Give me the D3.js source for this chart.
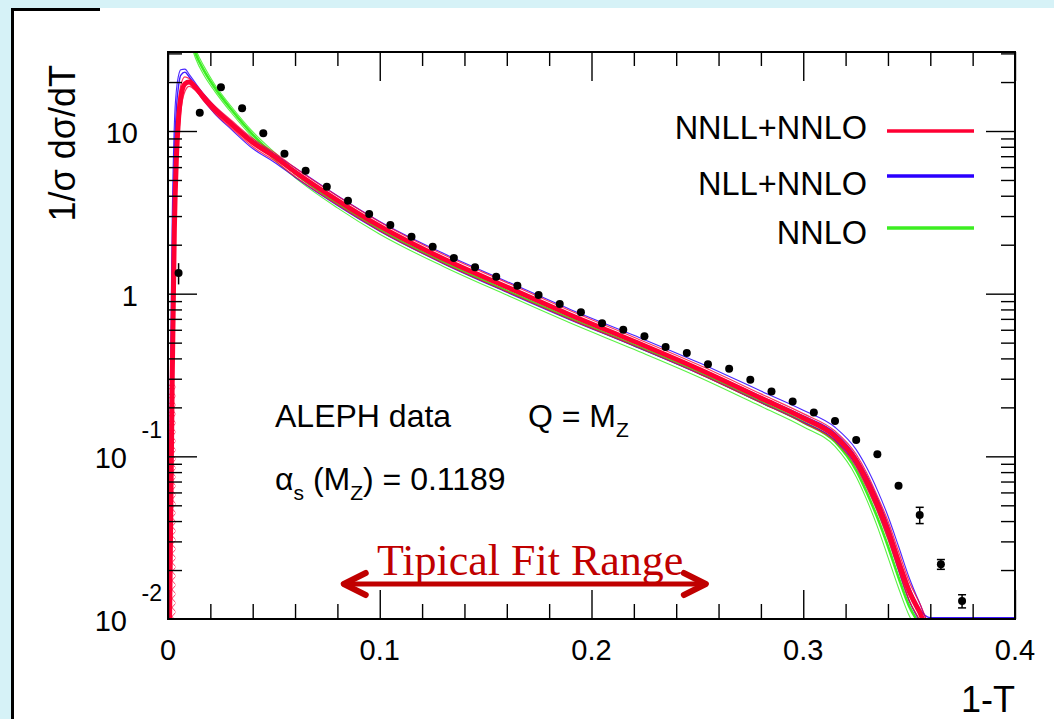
<!DOCTYPE html>
<html>
<head>
<meta charset="utf-8">
<script src="https://cdn.jsdelivr.net/npm/d3@7"></script>
<style>
  html, body { margin: 0; padding: 0; background: #d6f2f7; }
  svg { display: block; }
  text { font-family: "Liberation Sans", Arial, Helvetica, sans-serif; fill: #000; }
</style>
</head>
<body>
<svg id="chart" width="1054" height="719"></svg>
<script>
// ---- data: measured thrust distribution (1-T) ----
const dataX = [0.005, 0.015, 0.025, 0.035, 0.045, 0.055, 0.065, 0.075, 0.085, 0.095,
               0.105, 0.115, 0.125, 0.135, 0.145, 0.155, 0.165, 0.175, 0.185, 0.195,
               0.205, 0.215, 0.225, 0.235, 0.245, 0.255, 0.265, 0.275, 0.285, 0.295,
               0.305, 0.315, 0.325, 0.335, 0.345, 0.355, 0.365, 0.375];
const dataY = [1.34, 12.96, 18.6, 13.8, 9.68, 7.25, 5.70, 4.55, 3.73, 3.09,
               2.64, 2.24, 1.945, 1.658, 1.453, 1.272, 1.120, 0.982, 0.864, 0.769,
               0.658, 0.601, 0.547, 0.470, 0.432, 0.368, 0.346, 0.296, 0.250, 0.217,
               0.186, 0.165, 0.126, 0.103, 0.066, 0.0436, 0.0217, 0.0129];
const dataErr = [0.2, 0, 0, 0, 0, 0, 0, 0, 0, 0,
                 0, 0, 0, 0, 0, 0, 0, 0, 0, 0,
                 0, 0, 0, 0, 0, 0, 0, 0, 0, 0,
                 0, 0, 0, 0, 0, 0.005, 0.0015, 0.0012];

// ---- theory curves (central line and scale-variation edges) ----
const curveX = [0.0005, 0.002, 0.003, 0.004, 0.005, 0.006, 0.008, 0.010, 0.013, 0.017,
                0.022, 0.030, 0.040, 0.050, 0.060, 0.080, 0.100, 0.130, 0.160, 0.190,
                0.220, 0.250, 0.280, 0.300, 0.315, 0.325, 0.330, 0.335, 0.340, 0.345,
                0.350, 0.355, 0.360, 0.400];

const nnllMid = [0.005, 0.3, 2.5, 7, 12, 16, 19.5, 20, 18.5, 16,
                 13.6, 11, 8.5, 7.0, 5.6, 3.75, 2.6, 1.64, 1.10, 0.74,
                 0.51, 0.347, 0.228, 0.172, 0.133, 0.094, 0.071, 0.051, 0.035, 0.0225,
                 0.0148, 0.011, 0.008, 0.005];
const nnllHi  = [0.02, 0.8, 4, 10, 15, 19, 21.5, 21, 19.3, 16.8,
                 14.3, 11.6, 9.0, 7.4, 5.94, 3.98, 2.76, 1.74, 1.17, 0.785,
                 0.54, 0.368, 0.242, 0.183, 0.143, 0.103, 0.079, 0.057, 0.04, 0.026,
                 0.017, 0.0125, 0.009, 0.005];
const nnllLo  = [0.003, 0.1, 1.2, 4.5, 9, 13, 17.5, 18.8, 17.7, 15.2,
                 12.9, 10.4, 8.0, 6.6, 5.26, 3.52, 2.44, 1.54, 1.03, 0.695,
                 0.48, 0.326, 0.214, 0.161, 0.124, 0.086, 0.064, 0.046, 0.031, 0.02,
                 0.013, 0.0098, 0.007, 0.005];
// low-(1-T) region where the NNLL+NNLO variations oscillate (hatched)
const nnllHatchX = [0, 0.0035];
const nnllHatchY = [0.01, 0.3];

const nllMid  = [0.01, 1.5, 7, 14, 19, 22, 23, 21.5, 19, 16.2,
                 13.6, 10.8, 8.35, 6.9, 5.55, 3.72, 2.58, 1.64, 1.10, 0.742,
                 0.513, 0.352, 0.233, 0.177, 0.139, 0.099, 0.076, 0.055, 0.038, 0.024,
                 0.0158, 0.0115, 0.0102, 0.0102];
const nllHi   = [0.05, 3, 11, 18, 22, 23.8, 24, 22.3, 19.7, 16.8,
                 14.2, 11.4, 8.8, 7.25, 5.95, 4.0, 2.78, 1.77, 1.19, 0.8,
                 0.555, 0.38, 0.252, 0.192, 0.151, 0.11, 0.085, 0.062, 0.043, 0.028,
                 0.018, 0.0125, 0.009, 0.005];
const nllLo   = [0.003, 0.3, 3, 8, 13, 17, 19.5, 19.8, 18, 15.3,
                 12.8, 10.2, 7.8, 6.45, 5.2, 3.48, 2.42, 1.53, 1.02, 0.69,
                 0.477, 0.325, 0.214, 0.162, 0.126, 0.088, 0.066, 0.047, 0.032, 0.02,
                 0.013, 0.0096, 0.007, 0.005];

const nnloMid = [300, 200, 140, 105, 80, 65, 50, 40, 30, 23.5,
                 18.5, 13.5, 9.5, 7.1, 5.5, 3.58, 2.47, 1.56, 1.04, 0.703,
                 0.484, 0.33, 0.216, 0.162, 0.123, 0.082, 0.06, 0.042, 0.028, 0.018,
                 0.012, 0.0092, 0.007, 0.005];
const nnloHi  = [300, 220, 150, 112, 86, 70, 54, 43, 32, 25,
                 19.4, 14.1, 9.9, 7.45, 5.75, 3.76, 2.6, 1.64, 1.09, 0.74,
                 0.508, 0.347, 0.227, 0.17, 0.13, 0.088, 0.065, 0.046, 0.031, 0.02,
                 0.013, 0.0098, 0.007, 0.005];
const nnloLo  = [300, 180, 130, 98, 74, 60, 46, 37, 28, 22,
                 17.6, 12.9, 9.1, 6.7, 5.17, 3.37, 2.32, 1.47, 0.98, 0.66,
                 0.455, 0.31, 0.203, 0.152, 0.115, 0.075, 0.054, 0.037, 0.024, 0.0155,
                 0.0105, 0.0082, 0.006, 0.005];

// ---- axes ----
const xMajor = [0, 0.1, 0.2, 0.3, 0.4];
const xMajorLabels = ["0", "0.1", "0.2", "0.3", "0.4"];
const xMinor = [0.02, 0.04, 0.06, 0.08, 0.12, 0.14, 0.16, 0.18, 0.22, 0.24, 0.26, 0.28,
                0.32, 0.34, 0.36, 0.38];
const yMajor = [0.01, 0.1, 1, 10];
const yLabelBase = ["10", "10", "1", "10"];
const yLabelExp = ["-2", "-1", "", ""];
const yMinor = [0.02, 0.03, 0.04, 0.05, 0.06, 0.07, 0.08, 0.09,
                0.2, 0.3, 0.4, 0.5, 0.6, 0.7, 0.8, 0.9,
                2, 3, 4, 5, 6, 7, 8, 9, 20, 30];

const legendNames = ["NNLL+NNLO", "NLL+NNLO", "NNLO"];
const legendColors = ["#ff0033", "#2a00ff", "#3cee22"];

const svg = d3.select("#chart");
const W = 1054, H = 719;
const plot = { left: 168, right: 1015, top: 52, bottom: 619 };

const x = d3.scaleLinear().domain([0, 0.4]).range([plot.left, plot.right]);
const y = d3.scaleLog().domain([0.01, 30.6]).range([plot.bottom, plot.top]);

// page panel
svg.append("rect").attr("x", 0).attr("y", 0).attr("width", W).attr("height", H).attr("fill", "#d6f2f7");
svg.append("rect").attr("x", 11).attr("y", 8).attr("width", W - 11).attr("height", H - 8).attr("fill", "#ffffff");
svg.append("rect").attr("x", 11).attr("y", 8).attr("width", 3).attr("height", H - 8).attr("fill", "#000");
svg.append("rect").attr("x", 11).attr("y", 8).attr("width", 89).attr("height", 3).attr("fill", "#000");

const defs = svg.append("defs");
// clip region for curves
defs.append("clipPath").attr("id", "plotClip")
  .append("rect")
  .attr("x", plot.left).attr("y", plot.top)
  .attr("width", plot.right - plot.left).attr("height", plot.bottom - plot.top);
// cross-hatch used for the oscillating low-(1-T) region
const hatch = defs.append("pattern").attr("id", "redHatch")
  .attr("patternUnits", "userSpaceOnUse").attr("width", 8).attr("height", 9)
  .attr("x", plot.left).attr("y", 0);
hatch.append("path").attr("d", "M0,0 L8,9 M8,0 L0,9")
  .attr("stroke", legendColors[0]).attr("stroke-width", 1).attr("stroke-opacity", 0.75);

const line = d3.line()
  .x(d => x(d[0]))
  .y(d => y(d[1]))
  .curve(d3.curveMonotoneX);

const curves = svg.append("g").attr("clip-path", "url(#plotClip)");

function band(vals, color, width, opacity) {
  curves.append("path")
    .datum(curveX.map((cx, i) => [cx, vals[i]]))
    .attr("d", line)
    .attr("fill", "none")
    .attr("stroke", color)
    .attr("stroke-width", width)
    .attr("stroke-opacity", opacity)
    .attr("stroke-linejoin", "round");
}

// NNLO (green)
band(nnloHi, legendColors[2], 1.1, 0.85);
band(nnloLo, legendColors[2], 1.1, 0.85);
band(nnloMid, legendColors[2], 2.6, 1);
// NLL+NNLO (blue)
band(nllHi, legendColors[1], 1.1, 0.85);
band(nllLo, legendColors[1], 1.1, 0.85);
band(nllMid, legendColors[1], 1.4, 0.9);
// NNLL+NNLO (red)
curves.append("rect")
  .attr("x", x(nnllHatchX[0])).attr("width", x(nnllHatchX[1]) - x(nnllHatchX[0]))
  .attr("y", y(nnllHatchY[1])).attr("height", y(nnllHatchY[0]) - y(nnllHatchY[1]))
  .attr("fill", "url(#redHatch)");
band(nnllHi, legendColors[0], 1.2, 0.8);
band(nnllLo, legendColors[0], 1.2, 0.8);
band(nnllMid, legendColors[0], 5, 1);

// ticks (pointing inward on all four sides)
function ticks(axis, tx, ty) {
  const g = svg.append("g").attr("transform", `translate(${tx},${ty})`).call(axis);
  g.select(".domain").remove();
  g.selectAll(".tick line").attr("stroke", "#000").attr("stroke-width", 1.4);
  g.selectAll(".tick text").remove();
}
ticks(d3.axisTop(x).tickValues(xMajor).tickSize(29), 0, plot.bottom);
ticks(d3.axisTop(x).tickValues(xMinor).tickSize(15), 0, plot.bottom);
ticks(d3.axisBottom(x).tickValues(xMajor).tickSize(29), 0, plot.top);
ticks(d3.axisBottom(x).tickValues(xMinor).tickSize(14), 0, plot.top);
ticks(d3.axisRight(y).tickValues(yMajor.filter(v => v > 0.01)).tickSize(29), plot.left, 0);
ticks(d3.axisRight(y).tickValues(yMinor).tickSize(14), plot.left, 0);
ticks(d3.axisLeft(y).tickValues(yMajor.filter(v => v > 0.01)).tickSize(29), plot.right, 0);
ticks(d3.axisLeft(y).tickValues(yMinor).tickSize(14), plot.right, 0);

// frame
svg.append("rect")
  .attr("x", plot.left).attr("y", plot.top)
  .attr("width", plot.right - plot.left).attr("height", plot.bottom - plot.top)
  .attr("fill", "none").attr("stroke", "#000").attr("stroke-width", 2);

// x tick labels
svg.append("g").selectAll("text").data(xMajor).join("text")
  .attr("x", d => x(d)).attr("y", 660)
  .attr("text-anchor", "middle").attr("font-size", 29)
  .text((d, i) => xMajorLabels[i]);

// y tick labels (10 with exponent where needed)
const yl = svg.append("g");
yMajor.forEach((v, i) => {
  const hasExp = yLabelExp[i] !== "";
  yl.append("text")
    .attr("x", hasExp ? 127 : 138).attr("y", y(v) + 12)
    .attr("text-anchor", "end").attr("font-size", 29)
    .text(yLabelBase[i]);
  if (hasExp) {
    yl.append("text")
      .attr("x", 162).attr("y", y(v) - 18)
      .attr("text-anchor", "end").attr("font-size", 23)
      .text(yLabelExp[i]);
  }
});

// axis titles
svg.append("text")
  .attr("transform", "translate(75,65) rotate(-90)")
  .attr("text-anchor", "end").attr("font-size", 36)
  .text("1/σ dσ/dT");
svg.append("text")
  .attr("x", plot.right).attr("y", 712)
  .attr("text-anchor", "end").attr("font-size", 36)
  .text("1-T");

// data points with error bars
const pts = svg.append("g");
dataX.forEach((dx, i) => {
  const e = dataErr[i];
  if (e > 0) {
    const cx = x(dx);
    const y1 = y(dataY[i] + e), y2 = y(dataY[i] - e);
    pts.append("line").attr("x1", cx).attr("x2", cx).attr("y1", y1).attr("y2", y2)
      .attr("stroke", "#000").attr("stroke-width", 1.5);
    if (i > 0) {
      [y1, y2].forEach(yy => pts.append("line")
        .attr("x1", cx - 4).attr("x2", cx + 4).attr("y1", yy).attr("y2", yy)
        .attr("stroke", "#000").attr("stroke-width", 1.5));
    }
  }
});
pts.selectAll("circle").data(dataX).join("circle")
  .attr("cx", d => x(d)).attr("cy", (d, i) => y(dataY[i]))
  .attr("r", 4).attr("fill", "#000");

// legend
const legendTextY = [139, 195, 244];
const legendLineY = [131, 176, 228];
legendNames.forEach((name, i) => {
  svg.append("text").attr("x", 867).attr("y", legendTextY[i])
    .attr("text-anchor", "end").attr("font-size", 32.5).text(name);
  svg.append("line").attr("x1", 887).attr("x2", 974)
    .attr("y1", legendLineY[i]).attr("y2", legendLineY[i])
    .attr("stroke", legendColors[i]).attr("stroke-width", 3.5);
});

// annotations
svg.append("text").attr("x", 275).attr("y", 427).attr("font-size", 32).text("ALEPH data");
const q = svg.append("text").attr("x", 528).attr("y", 427).attr("font-size", 32);
q.append("tspan").text("Q = M");
q.append("tspan").attr("font-size", 21).attr("dy", 10).text("Z");

const a = svg.append("text").attr("x", 275).attr("y", 490).attr("font-size", 32);
a.append("tspan").text("α");
a.append("tspan").attr("font-size", 21).attr("dy", 10).text("s");
a.append("tspan").attr("dy", -10).text(" (M");
a.append("tspan").attr("font-size", 21).attr("dy", 10).text("Z");
a.append("tspan").attr("dy", -10).text(") = 0.1189");

// fit range marker
const fitRange = [0.083, 0.254];
const arrowColor = "#c00000";
const ay = 584;
const ag = svg.append("g").attr("stroke", arrowColor).attr("fill", "none")
  .attr("stroke-linecap", "round").attr("stroke-linejoin", "round");
ag.append("line").attr("x1", x(fitRange[0])).attr("x2", x(fitRange[1]))
  .attr("y1", ay).attr("y2", ay).attr("stroke-width", 5);
ag.append("path").attr("stroke-width", 6)
  .attr("d", `M${x(fitRange[0]) + 22},${ay - 11} L${x(fitRange[0])},${ay} L${x(fitRange[0]) + 22},${ay + 11}`);
ag.append("path").attr("stroke-width", 6)
  .attr("d", `M${x(fitRange[1]) - 22},${ay - 11} L${x(fitRange[1])},${ay} L${x(fitRange[1]) - 22},${ay + 11}`);
svg.append("text").attr("x", 377).attr("y", 575)
  .style("font-family", "'Liberation Serif', 'DejaVu Serif', serif")
  .style("font-size", "44px").style("fill", arrowColor)
  .text("Tipical Fit Range");
</script>
</body>
</html>
